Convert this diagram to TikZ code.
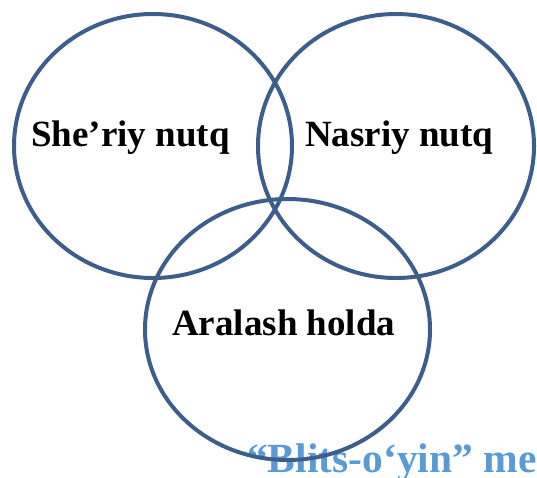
\documentclass[tikz,border=0pt]{standalone}
\usepackage{fontspec}
\setmainfont{Liberation Serif}
\usetikzlibrary{shapes.geometric}
\definecolor{ringblue}{RGB}{59,94,140}
\definecolor{titleblue}{RGB}{91,155,213}
\tikzset{
  ring/.style={draw=ringblue, line width=4pt, ellipse, inner sep=0pt, outer sep=0pt},
  lbl/.style={anchor=base west, inner sep=0pt, font=\fontsize{37}{41}\selectfont\bfseries, text=black},
  ttl/.style={anchor=base west, inner sep=0pt, font=\fontsize{41.5}{45}\selectfont\bfseries, text=titleblue}
}
\begin{document}
\begin{tikzpicture}[x=1pt,y=-1pt]
\useasboundingbox (0,0) rectangle (537,477);
\node[ttl] (title) at (247,472) {“Blits-o‘yin” me};
\node[ring, minimum width=278pt, minimum height=264pt] (c1) at (153,146) {};
\node[ring, minimum width=276pt, minimum height=264pt] (c2) at (396,146) {};
\node[ring, minimum width=285pt, minimum height=261pt] (c3) at (287.5,329.5) {};
\node[lbl] (t1) at (31,146) {She’riy nutq};
\node[lbl] (t2) at (305,146) {Nasriy nutq};
\node[lbl] (t3) at (172,335) {Aralash holda};
\end{tikzpicture}
\end{document}
